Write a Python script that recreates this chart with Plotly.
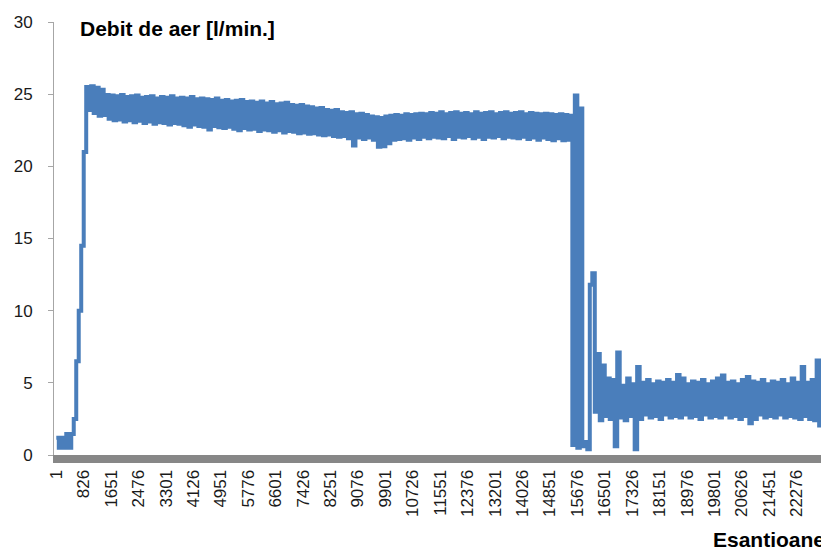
import plotly.graph_objects as go

# air flow readings, one every 75 samples
start = [1.2, 0.5, 1.2, 0.5, 1.45, 0.5, 1.45]
ramp = [2.5, 6.5, 10.0, 14.5, 21.0]
plateau = [
    25.5, 23.9, 25.55, 23.7, 25.45, 23.5, 25.3, 23.55,
    24.95, 23.3, 24.9, 23.2, 24.85, 23.25, 24.95, 23.1, 24.8, 23.2,
    24.85, 23.05, 24.9, 23.15, 24.75, 23.0, 24.8, 23.1, 24.85, 22.95,
    24.7, 23.05, 24.8, 23.0, 24.75, 22.9, 24.85, 23.0, 24.7, 22.95,
    24.75, 22.85, 24.7, 22.75, 24.8, 22.9, 24.65, 22.8, 24.7,
    22.75, 24.65, 22.55, 24.6, 22.8, 24.7, 22.7, 24.55, 22.65, 24.6,
    22.75, 24.5, 22.6, 24.55, 22.5, 24.6, 22.65, 24.45, 22.55, 24.5,
    22.6, 24.4, 22.45, 24.5, 22.55, 24.35, 22.5, 24.45, 22.4, 24.3,
    22.5, 24.35, 22.35, 24.4, 22.45, 24.25, 22.4, 24.2, 22.3, 24.25,
    22.35, 24.15, 22.25, 24.1, 22.3, 24.0, 22.2, 24.05, 22.15, 23.9,
    22.2, 23.85, 22.1, 23.9, 22.05, 23.75, 22.1, 23.7, 21.95, 23.75,
    21.45, 23.6, 22.0, 23.65, 21.9, 23.55, 22.0, 23.45, 21.85, 23.4,
    21.35, 23.35,
    21.4, 23.45, 21.6, 23.5, 21.85, 23.55, 21.9, 23.5, 21.95, 23.6,
    21.85, 23.55, 22.0, 23.6, 21.9, 23.65, 22.05, 23.6, 21.95, 23.7,
    22.05, 23.65, 22.0, 23.75, 21.95, 23.6, 22.1, 23.7, 21.9, 23.75,
    22.05, 23.65, 22.0, 23.7, 22.1, 23.6, 21.95, 23.75, 22.05, 23.65,
    21.9, 23.7, 22.05, 23.75, 22.0, 23.6, 22.1, 23.7, 21.95, 23.75,
    22.05, 23.65, 22.0, 23.7, 21.95, 23.75, 22.05, 23.6, 21.9, 23.7,
    22.0, 23.65, 21.85, 23.6, 22.0, 23.65, 21.9, 23.6, 21.8, 23.55,
    21.95, 23.6, 21.8, 23.55, 21.85, 23.5,
]
drop = [0.7, 24.9, 0.5, 24.0, 0.6, 0.9, 0.4, 11.8, 12.6]
tail = [
    3.0, 7.0, 2.4, 6.2, 2.7, 5.3, 2.5, 5.2, 0.6, 7.1,
    2.6, 4.8, 2.4, 5.3, 2.7, 4.9, 0.4, 6.1, 2.5, 5.0,
    2.8, 5.2, 2.6, 4.9, 2.7, 5.1, 2.5, 5.0, 2.8, 5.2,
    2.6, 5.0, 2.7, 5.55, 2.6, 5.3, 2.8, 4.9, 2.6, 5.1,
    2.7, 5.0, 2.5, 5.2, 2.8, 4.9, 2.6, 5.1, 2.7, 5.3,
    2.6, 5.5, 2.8, 5.0, 2.6, 5.1, 2.7, 4.9, 2.5, 5.2,
    2.7, 5.4, 2.2, 5.1, 2.5, 5.0, 2.8, 5.2, 2.6, 4.9,
    2.7, 5.1, 2.6, 5.0, 2.8, 5.2, 2.6, 4.9, 2.7, 5.3,
    2.6, 5.0, 2.5, 6.1, 2.7, 5.0, 2.5, 5.2, 2.4, 6.55,
    2.05, 5.3,
]
flow = start + ramp + plateau + drop + tail
step = 75
samples = [1 + step * k for k in range(len(flow))]

tick_vals = [1, 826, 1651, 2476, 3301, 4126, 4951, 5776, 6601, 7426, 8251,
             9076, 9901, 10726, 11551, 12376, 13201, 14026, 14851, 15676,
             16501, 17326, 18151, 18976, 19801, 20626, 21451, 22276]
tick_text = [str(v) for v in tick_vals]

font = "Liberation Sans, Arial, sans-serif"

fig = go.Figure(go.Scatter(
    x=samples, y=flow, mode='lines',
    line=dict(color='#4a7ebb', width=4, shape='hv', simplify=False),
    hoverinfo='skip', showlegend=False
))

# the page body has an 8px margin, so the figure is 8px smaller than the window
fig.update_layout(
    width=821, height=545,
    margin=dict(l=46, r=5, t=14, b=98),
    paper_bgcolor='white', plot_bgcolor='white',
    font=dict(family=font, color='#1a1a1a'),
    xaxis=dict(
        range=[-68, 23097], tickvals=tick_vals, ticktext=tick_text,
        tickangle=-90, tickfont=dict(size=17),
        showline=True, linecolor='#878787', linewidth=8,
        ticks='', showgrid=False, zeroline=False,
    ),
    yaxis=dict(
        range=[0, 30], dtick=5, tickfont=dict(size=17),
        showline=True, linecolor='#a6a6a6', linewidth=1,
        ticks='outside', ticklen=5, tickcolor='#a6a6a6',
        ticklabelstandoff=12, showgrid=False, zeroline=False,
    ),
    annotations=[
        dict(text='<b>Debit de aer [l/min.]</b>', xref='paper', yref='paper',
             x=0.031, y=0.986, xanchor='left', yanchor='middle',
             showarrow=False, font=dict(size=21, color='#000000')),
        dict(text='<b>Esantioane</b>', xref='paper', yref='paper',
             x=1.004, y=-0.196, xanchor='right', yanchor='middle',
             showarrow=False, font=dict(size=21, color='#000000')),
    ],
)

fig.write_html("out.html")
